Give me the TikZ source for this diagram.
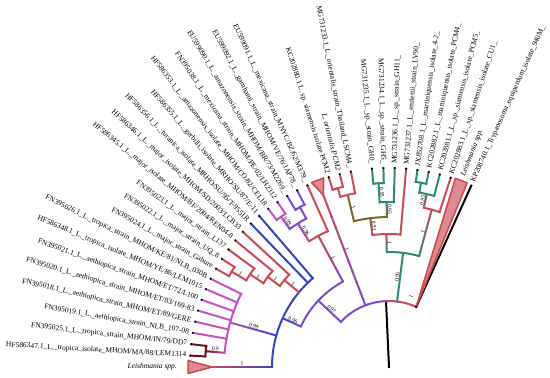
\documentclass[tikz,border=0pt]{standalone}
\usepackage{fontspec}
\setmainfont{Liberation Serif}
\definecolor{tred}{RGB}{205,75,85}
\definecolor{tblue}{RGB}{55,70,190}
\definecolor{tpurple}{RGB}{125,75,205}
\definecolor{tmag}{RGB}{195,85,195}
\definecolor{tgreen}{RGB}{45,140,115}
\definecolor{tbrown}{RGB}{130,100,40}
\definecolor{tmaroon}{RGB}{105,20,20}
\definecolor{tpink}{RGB}{220,140,145}
\tikzset{
 tip/.style={font=\fontsize{7.5}{8}\selectfont, inner sep=0pt},
 bl/.style={font=\fontsize{5.5}{6}\selectfont, inner sep=0.8pt},
 br/.style={line width=2pt, line cap=rect},
 tri/.style={line width=1.6pt, draw=tred, fill=tpink, line join=round},
}
\newcommand{\rl}[4]{\draw[br,#4] (#1:#2) -- (#1:#3);}
\newcommand{\ar}[4]{\draw[br,#4] (#1:#3) arc[start angle=#1, end angle=#2, radius=#3];}
\newcommand{\gl}[5]{%
 \foreach \gi in {0,...,9}{%
  \pgfmathsetmacro{\ga}{#2+(#3-#2)*\gi/10}%
  \pgfmathsetmacro{\gb}{#2+(#3-#2)*(\gi+1.15)/10}%
  \pgfmathtruncatemacro{\gp}{95-\gi*10}%
  \draw[line width=2pt, #4!\gp!#5] (#1:\ga) -- (#1:\gb);
 }}
\newcommand{\tipl}[3]{\fill (#1:199) circle (1.15); \node[tip,anchor=east,rotate=#1-180] (#2) at (#1:203) {#3};}
\newcommand{\tipr}[3]{\fill (#1:199) circle (1.15); \node[tip,anchor=west,rotate=#1] (#2) at (#1:203) {#3};}
\newcommand{\bl}[4]{\pgfmathsetmacro{\brot}{#1>90 ? #1-180 : #1}\node[bl,anchor=south,rotate=\brot] (#4) at (#1:#2) {#3};}
\begin{document}
\begin{tikzpicture}[x=1pt,y=1pt]
\useasboundingbox (0,0) rectangle (550,378);
\begin{scope}[shift={(389,11)}]
% ---------- root
\draw[br,black] (0,0) -- (92.6:66);
\ar{136.82}{92.6}{66}{tpurple}
\ar{92.6}{65.6}{66}{tred}
\rl{65.6}{66}{199}{black}
% ---------- node A
\rl{136.82}{66}{97}{tpurple}
\ar{118.31}{155.33}{97}{tpurple}
\gl{155.33}{97}{117}{tpurple}{tblue}
% node B
\ar{130.65}{180}{117}{tblue}
\gl{180}{117}{177}{tblue}{tred}
\filldraw[tri] (180:177) -- (181.85:201) -- (178.15:201) -- cycle;
\gl{164.37}{117}{165}{tblue}{tmag}
\ar{153.68}{175.07}{165}{tmag}
\gl{175.07}{165}{184}{tmag}{tmaroon}
\ar{173.42}{176.71}{184}{tmaroon}
\rl{176.71}{184}{199}{tmaroon}
\rl{173.42}{184}{199}{tmaroon}
\foreach \a in {170.13,166.84,163.55,160.26,156.97,153.68} {\rl{\a}{165}{199}{tmag}}
% major caterpillar
\rl{140.31}{117}{136}{tred}
\ar{137.23}{143.4}{136}{tred}
\rl{137.23}{136}{199}{tred}
\rl{143.4}{136}{151}{tred}
\ar{140.52}{146.28}{151}{tred}
\rl{140.52}{151}{199}{tred}
\rl{146.28}{151}{167}{tred}
\ar{143.81}{148.75}{167}{tred}
\rl{143.81}{167}{199}{tred}
\rl{148.75}{167}{184}{tred}
\ar{147.10}{150.39}{184}{tred}
\rl{147.10}{184}{199}{tred}
\rl{150.39}{184}{199}{tred}
\rl{133.94}{117}{199}{tblue}
\rl{130.65}{117}{199}{tblue}
% node P
\gl{118.31}{97}{149}{tpurple}{tred}
\ar{114.20}{122.43}{149}{tred}
\rl{114.20}{149}{199}{tred}
\gl{122.43}{149}{170}{tred}{tpurple}
\ar{119.14}{125.72}{170}{tpurple}
\gl{125.72}{170}{185}{tpurple}{tmag}
\ar{124.07}{127.36}{185}{tmag}
\rl{124.07}{185}{199}{tmag}
\rl{127.36}{185}{199}{tmag}
\rl{119.14}{170}{183}{tpurple}
\ar{117.49}{120.78}{183}{tpurple}
\rl{117.49}{183}{199}{tpurple}
\rl{120.78}{183}{199}{tpurple}
% collapsed clade at 110.91
\gl{110.91}{66}{184}{tpurple}{tred}
\filldraw[tri] (110.91:184) -- (112.76:200) -- (109.06:200) -- cycle;
% ---------- node G
\rl{82.96}{66}{115}{tgreen}
\ar{74.81}{91.11}{115}{tgreen}
\gl{91.11}{115}{133}{tgreen}{tred}
\ar{85.06}{97.16}{133}{tred}
\rl{85.06}{133}{199}{tred}
\gl{97.16}{133}{150}{tred}{tbrown}
\ar{90.8}{103.51}{150}{tbrown}
\rl{103.51}{150}{177}{tbrown}
\ar{101.04}{105.98}{177}{tred}
\rl{101.04}{177}{199}{tred}
\rl{105.98}{177}{186}{tred}
\ar{104.33}{107.62}{186}{tred}
\rl{104.33}{186}{199}{tred}
\rl{107.62}{186}{199}{tred}
\gl{90.8}{150}{165}{tbrown}{tgreen}
\ar{88.34}{93.26}{165}{tgreen}
\rl{88.34}{165}{199}{tgreen}
\rl{93.26}{165}{184}{tgreen}
\ar{91.62}{94.9}{184}{tgreen}
\rl{91.62}{184}{199}{tgreen}
\rl{94.9}{184}{199}{tgreen}
\gl{74.81}{115}{163}{tgreen}{tred}
\ar{71.94}{77.68}{163}{tred}
\rl{71.94}{163}{199}{tred}
\gl{77.68}{163}{177}{tred}{tgreen}
\ar{75.22}{80.14}{177}{tgreen}
\rl{75.22}{177}{199}{tgreen}
\rl{80.14}{177}{187}{tgreen}
\ar{78.5}{81.78}{187}{tgreen}
\rl{78.5}{187}{199}{tgreen}
\rl{81.78}{187}{199}{tgreen}
% collapsed clade at right
\filldraw[tri] (65.8:67) -- (70.6:200) -- (67.0:200) -- cycle;
% ---------- branch labels
\bl{136.82}{81.5}{0.97}{b1}
\bl{118.31}{123}{1}{b2}
\bl{155.33}{107}{0.96}{b3}
\bl{164.37}{141}{0.99}{b4}
\bl{180}{147}{1}{b5}
\bl{175.07}{174.5}{0.9}{b6}
\bl{140.31}{126.5}{1}{b7}
\bl{143.4}{143.5}{1}{b8}
\bl{146.28}{159}{1}{b9}
\bl{148.75}{175.5}{1}{b10}
\bl{122.43}{159.5}{0.96}{b11}
\bl{125.72}{177.5}{0.99}{b12}
\bl{110.91}{125}{1}{b13}
\bl{82.96}{90.5}{0.95}{b14}
\bl{91.11}{124}{1}{b15}
\bl{97.16}{141.5}{0.91}{b16}
\bl{103.51}{163.5}{1}{b17}
\bl{90.8}{157.5}{0.95}{b18}
\bl{93.26}{174.5}{0.95}{b19}
\bl{74.81}{139}{1}{b20}
\bl{77.68}{170}{0.95}{b21}
\bl{70.5}{74}{1}{b22}
% ---------- tip labels
\node[tip,anchor=east,font=\fontsize{7.5}{8}\selectfont\itshape] (t1) at (180:212) {Leishmania spp.};
\tipl{176.71}{t2}{HF586347.1\_L.\_tropica\_isolate\_MHOM/MA/88/LEM1314}
\tipl{173.42}{t3}{FN395025.1\_L.\_tropica\_strain\_MHOM/IN/79/DD7}
\tipl{170.13}{t4}{FN395019.1\_L.\_aethiopica\_strain\_NLB\_107-08}
\tipl{166.84}{t5}{FN395018.1\_L.\_aethiopica\_strain\_MHOM/ET/89/GERE}
\tipl{163.55}{t6}{FN395020.1\_L.\_aethiopica\_strain\_MHOM/ET/83/169-83}
\tipl{160.26}{t7}{FN395021.1\_L.\_aethiopica\_strain\_MHOM/ET/72/L100}
\tipl{156.97}{t8}{HF586348.1\_L.\_tropica\_isolate\_MHOM/YE/86/LEM1015}
\tipl{153.68}{t9}{FN395026.1\_L.\_tropica\_strain\_MHOM/KE/81/NLB\_030B}
\tipl{150.39}{t10}{FN395024.1\_L.\_major\_strain\_Gabure}
\tipl{147.10}{t11}{FN395022.1\_L.\_major\_strain\_UQ\_8}
\tipl{143.81}{t12}{FN395023.1\_L.\_major\_strain\_L137}
\tipl{140.52}{t13}{HF586345.1\_L.\_major\_isolate\_MHOM/BF/2004/REN04-8}
\tipl{137.23}{t14}{HF586346.1\_L.\_major\_isolate\_MHOM/SD/2003/LCB33}
\tipl{133.94}{t15}{HF586356.1\_L.\_turanica\_isolate\_MRHO/SU/95/T-9551R}
\tipl{130.65}{t16}{HF586355.1\_L.\_gerbilli\_isolate\_MRHO/SU/87/E-11}
\tipl{127.36}{t17}{HF586353.1\_L.\_amazonensis\_isolate\_MHOM/CO/82/CEL18}
\tipl{124.07}{t18}{FN395038.1\_L.\_mexicana\_strain\_MHOM/PE/02/LH2312}
\tipl{120.78}{t19}{EU599090.1\_L.\_amazonensis\_strain\_MHOM/BR/73/M2269\_}
\tipl{117.49}{t20}{EU599092.1\_L.\_garnhami\_strain\_MHOM/VE/76/JAP78\_}
\tipl{114.20}{t21}{EU599091.1\_L.\_mexicana\_strain\_MNYC/BZ/62/M379\_}
\tipl{107.62}{t23}{KC202880.1 L. sp. siamensis isolate PCM2}
\tipl{104.33}{t24}{\itshape L. orientalis PCM2}
\tipl{101.04}{t25}{MG731233.1\_L.\_orientalis\_strain\_Thailand\_LSCM4\_}
\tipl{94.9}{t26}{MG731235.1\_L.\_sp.\_strain\_GH0\_}
\tipl{91.62}{t27}{MG731234.1\_L.\_sp.\_strain\_GH5\_}
\tipr{88.34}{t28}{MG731236.1\_L.\_sp.\_strain\_GH11\_}
\tipr{85.06}{t29}{MG731237.1\_L.\_enriettii\_strain\_LV90\_}
\tipr{81.78}{t30}{JX852708.1\_L.\_martiniquensis\_isolate\_4-2\_}
\tipr{78.5}{t31}{KC202882.1\_L.\_martiniquensis\_isolate\_PCM4\_}
\tipr{75.22}{t32}{KC202881.1\_L.\_sp.\_siamensis\_isolate\_PCM5\_}
\tipr{71.94}{t33}{KC202883.1\_L.\_sp.\_siamensis\_isolate\_CU1\_}
\node[tip,anchor=west,rotate=68.8,font=\fontsize{7.5}{8}\selectfont\itshape] (t34) at (68.8:205) {Leishmania spp.};
\tipr{65.6}{t35}{KP208740.1\_Trypanosoma\_equiperdum\_isolate\_940M\_}
\end{scope}
\end{tikzpicture}
\end{document}
